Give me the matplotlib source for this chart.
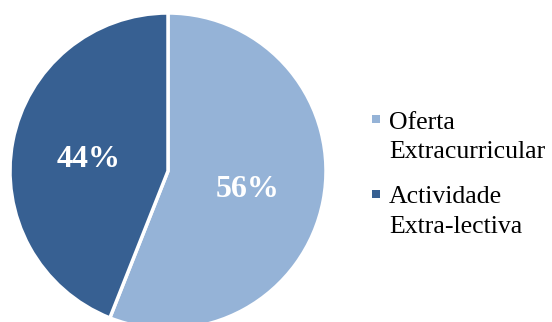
import matplotlib.pyplot as plt
from matplotlib.patches import Rectangle

labels = ["Oferta\nExtracurricular", "Actividade\nExtra-lectiva"]
values = [56, 44]
colors = ["#95B3D7", "#376092"]

plt.rcParams['font.family'] = ['Liberation Serif', 'DejaVu Serif']

W, H = 552, 322
fig = plt.figure(figsize=(W / 100, H / 100), dpi=100)
ax = fig.add_axes([10 / W, (H - 171 - 158) / H, 316 / W, 316 / H])

wedges, texts, autotexts = ax.pie(values, colors=colors, startangle=90, counterclock=False,
                                  autopct="%.0f%%", pctdistance=0.51,
                                  wedgeprops=dict(edgecolor="white", linewidth=2.5))
for t in autotexts:
    t.set_color("white")
    t.set_fontsize(23)
    t.set_fontweight("bold")
    t.set_verticalalignment("center_baseline")
ax.set_xlim(-1, 1)
ax.set_ylim(-1, 1)
ax.set_aspect("equal")

# legend: square key beside the first line of each label,
# text anchored on the baseline of its last line
for i, (lab, col) in enumerate(zip(labels, colors)):
    base = 127.3 + i * 74.4
    fig.patches.append(Rectangle((372 / W, 1 - (base - 4) / H), 8 / W, 8 / H,
                                 transform=fig.transFigure, facecolor=col, edgecolor="none"))
    fig.text(389 / W, 1 - (base + 31) / H, lab, fontsize=18.5, va="baseline", ha="left",
             linespacing=1.45)

fig.savefig("out.png", dpi=100)
